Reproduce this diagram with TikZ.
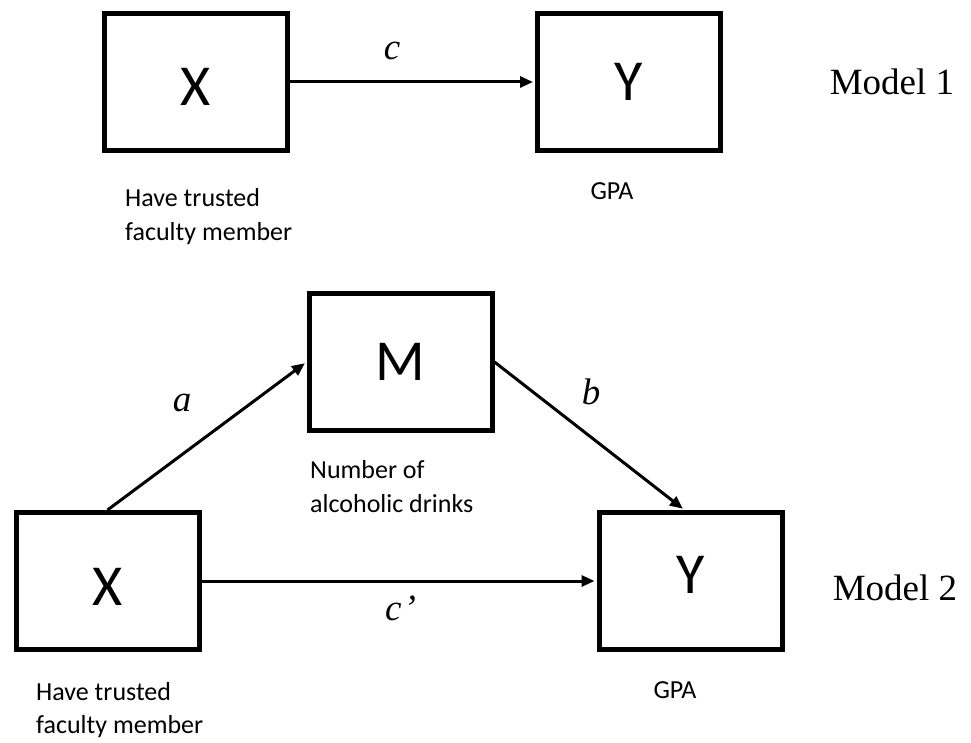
\documentclass[tikz,border=0pt]{standalone}
\usepackage{fontspec}
\setmainfont{Liberation Serif}
\newfontfamily\calibri{Carlito}
\usetikzlibrary{arrows.meta}

\begin{document}
\begin{tikzpicture}[x=1pt,y=-1pt,
  box/.style={draw,line width=5pt,minimum width=183pt,minimum height=137pt,inner sep=0pt,font=\calibri\fontsize{58}{58}\selectfont},
  note/.style={align=left,anchor=north west,inner sep=0pt,font=\calibri\fontsize{26}{34}\selectfont},
  coef/.style={inner sep=0pt,font=\itshape\fontsize{37}{37}\selectfont},
  model/.style={inner sep=0pt,font=\fontsize{37}{37}\selectfont},
  link/.style={line width=3pt,shorten >=2pt,-{Triangle[length=13pt,width=11pt]}}]
  \useasboundingbox (0,0) rectangle (971,743);
  % Model 1
  \node[box,text height=48pt] (X1) at (196,82) {X};
  \node[box] (Y1) at (629,82) {Y};
  \draw[link] (X1) -- (Y1);
  \node[coef] (c) at (392,51) {c};
  \node[model] (m1) at (892,82) {Model 1};
  \node[note] (x1txt) at (125,188) {Have trusted\\faculty member};
  \node[note,anchor=north] (y1txt) at (612,182) {GPA};
  % Model 2
  \node[box] (M) at (400.5,362) {M};
  \node[box,text height=48pt] (X2) at (107.5,581) {X};
  \node[box,text depth=12pt] (Y2) at (690.5,581) {Y};
  \draw[link] (X2.north) -- (M.west);
  \draw[link] (M.east) -- ([xshift=-6pt]Y2.north);
  \draw[link] (X2) -- (Y2);
  \node[coef] (a) at (182,403) {a};
  \node[coef] (b) at (591,392) {b};
  \node[coef,anchor=base west] (cp) at (385,620) {c\hspace{2pt}’};
  \node[model] (m2) at (895,588) {Model 2};
  \node[note] (mtxt) at (310,460) {Number of\\alcoholic drinks};
  \node[note,font=\calibri\fontsize{26}{33}\selectfont] (x2txt) at (36,682) {Have trusted\\faculty member};
  \node[note,anchor=north] (y2txt) at (675,681) {GPA};
\end{tikzpicture}
\end{document}
